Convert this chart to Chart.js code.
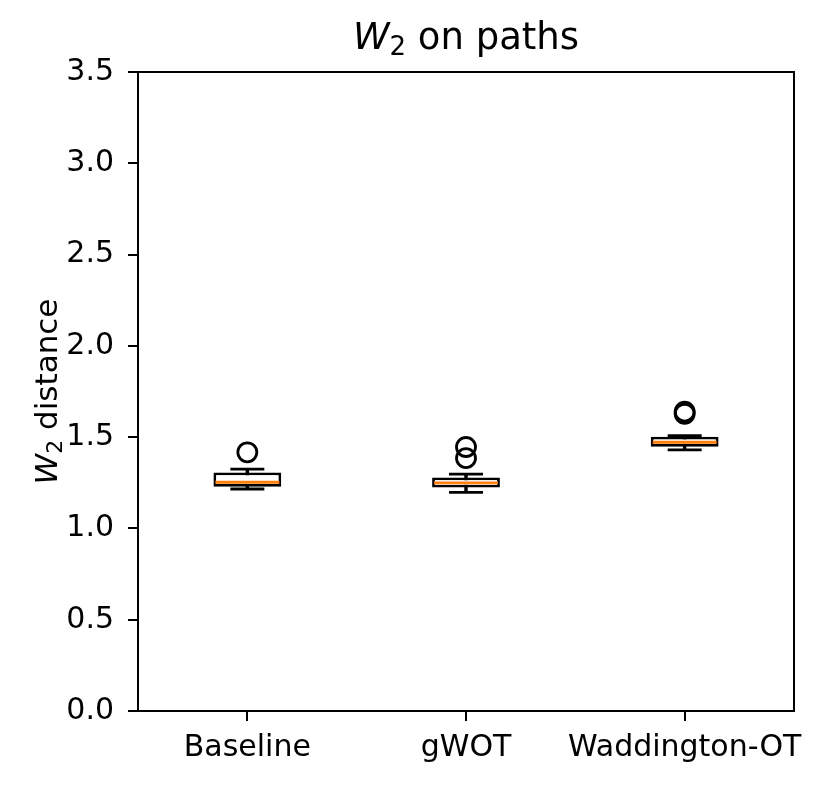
<!DOCTYPE html>
<html>
<head>
<meta charset="utf-8">
<script src="https://cdn.jsdelivr.net/npm/chart.js@4.4.0/dist/chart.umd.min.js"></script>
<style>
	body { margin: 0; background: #fff; }
	#chart { display: block; }
</style>
</head>
<body>
<canvas id="chart" width="829" height="786"></canvas>
<script>
// Box plot values
var categories = ["Baseline", "gWOT", "Waddington-OT"];
var q1 = [1.228, 1.224, 1.448];
var q3 = [1.307, 1.279, 1.502];
var medians = [1.253, 1.250, 1.472];
var whiskerLow = [1.216, 1.198, 1.430];
var whiskerHigh = [1.325, 1.297, 1.508];
var outliers = [[1.417], [1.446, 1.385], [1.628, 1.640]];
var yTicks = [0, 0.5, 1.0, 1.5, 2.0, 2.5, 3.0, 3.5];

var FONT = "'DejaVu Sans', sans-serif";

// build the datasets from the arrays
var boxes = [];
var whiskers = [];
var medianPts = [];
var capPts = [];
var outlierPts = [];
for (var i = 0; i < categories.length; i++) {
	boxes.push([q1[i], q3[i]]);
	whiskers.push([whiskerLow[i], whiskerHigh[i]]);
	medianPts.push({ x: categories[i], y: medians[i] });
	capPts.push({ x: categories[i], y: whiskerLow[i] });
	capPts.push({ x: categories[i], y: whiskerHigh[i] });
	for (var j = 0; j < outliers[i].length; j++) {
		outlierPts.push({ x: categories[i], y: outliers[i][j] });
	}
}

// Frame (top and right spines) + title + y label
var decorations = {
	id: "decorations",
	afterDraw: function(chart) {
		var ctx = chart.ctx;
		var a = chart.chartArea;
		ctx.save();
		ctx.strokeStyle = "#000";
		ctx.lineWidth = 2;
		ctx.strokeRect(a.left, a.top, a.right - a.left, a.bottom - a.top);

		// Title: W_2 on paths
		ctx.fillStyle = "#000";
		ctx.textBaseline = "alphabetic";
		var big = "37px " + FONT, small = "26px " + FONT;
		ctx.font = "italic " + big;
		var wW = ctx.measureText("W").width;
		ctx.font = small;
		var w2 = ctx.measureText("2").width;
		ctx.font = big;
		var wRest = ctx.measureText(" on paths").width;
		var x = (a.left + a.right) / 2 - (wW + w2 + wRest) / 2;
		var y = 49;
		ctx.font = "italic " + big;
		ctx.fillText("W", x, y);
		ctx.font = small;
		ctx.fillText("2", x + wW, y + 6);
		ctx.font = big;
		ctx.fillText(" on paths", x + wW + w2, y);

		// Y axis label: W_2 distance
		ctx.translate(57, (a.top + a.bottom) / 2);
		ctx.rotate(-Math.PI / 2);
		var lb = "31px " + FONT, ls = "22px " + FONT;
		ctx.font = "italic " + lb;
		var yW = ctx.measureText("W").width;
		ctx.font = ls;
		var y2 = ctx.measureText("2").width;
		ctx.font = lb;
		var yRest = ctx.measureText(" distance").width;
		var sx = -(yW + y2 + yRest) / 2;
		ctx.font = "italic " + lb;
		ctx.fillText("W", sx, 0);
		ctx.font = ls;
		ctx.fillText("2", sx + yW, 5);
		ctx.font = lb;
		ctx.fillText(" distance", sx + yW + y2, 0);
		ctx.restore();
	}
};

var ctx = document.getElementById("chart");
var chart = new Chart(ctx, {
	type: "bar",
	data: {
		labels: categories,
		datasets: [
			{
				label: "whiskers",
				data: whiskers,
				backgroundColor: "#000",
				barThickness: 2.8,
				grouped: false,
				order: 5
			},
			{
				label: "boxes",
				data: boxes,
				backgroundColor: "#fff",
				borderColor: "#000",
				borderWidth: 2.8,
				borderSkipped: false,
				barPercentage: 0.31,
				categoryPercentage: 1,
				grouped: false,
				order: 4
			},
			{
				type: "line",
				label: "medians",
				data: medianPts,
				showLine: false,
				pointStyle: "line",
				pointRadius: 32,
				pointBorderWidth: 2.8,
				borderColor: "#ff7f0e",
				pointBorderColor: "#ff7f0e",
				order: 3
			},
			{
				type: "line",
				label: "caps",
				data: capPts,
				showLine: false,
				pointStyle: "line",
				pointRadius: 17,
				pointBorderWidth: 2.8,
				borderColor: "#000",
				pointBorderColor: "#000",
				order: 2
			},
			{
				type: "line",
				label: "outliers",
				data: outlierPts,
				showLine: false,
				pointStyle: "circle",
				pointRadius: 9.5,
				pointBorderWidth: 2.8,
				pointBorderColor: "#000",
				pointBackgroundColor: "rgba(0,0,0,0)",
				order: 1
			}
		]
	},
	options: {
		responsive: false,
		animation: false,
		devicePixelRatio: 1,
		layout: { padding: { left: 0, right: 35, top: 72, bottom: 0 } },
		plugins: {
			legend: { display: false },
			tooltip: { enabled: false },
			title: { display: false }
		},
		scales: {
			x: {
				type: "category",
				offset: true,
				grid: { offset: false, drawOnChartArea: false, drawTicks: true, tickLength: 10, color: "#000", lineWidth: 2 },
				border: { display: true, color: "#000", width: 2 },
				ticks: { color: "#000", font: { family: FONT, size: 30 }, padding: 9, maxRotation: 0, autoSkip: false },
				afterFit: function(scale) { scale.height = 75; }
			},
			y: {
				min: 0,
				max: 3.5,
				afterBuildTicks: function(scale) {
					scale.ticks = yTicks.map(function(v) { return { value: v }; });
				},
				grid: { drawOnChartArea: false, drawTicks: true, tickLength: 10, color: "#000", lineWidth: 2 },
				border: { display: true, color: "#000", width: 2 },
				ticks: {
					color: "#000",
					font: { family: FONT, size: 30 },
					padding: 14,
					callback: function(v) { return Number(v).toFixed(1); }
				},
				afterFit: function(scale) { scale.width = 138; }
			}
		}
	},
	plugins: [decorations]
});
</script>
</body>
</html>
